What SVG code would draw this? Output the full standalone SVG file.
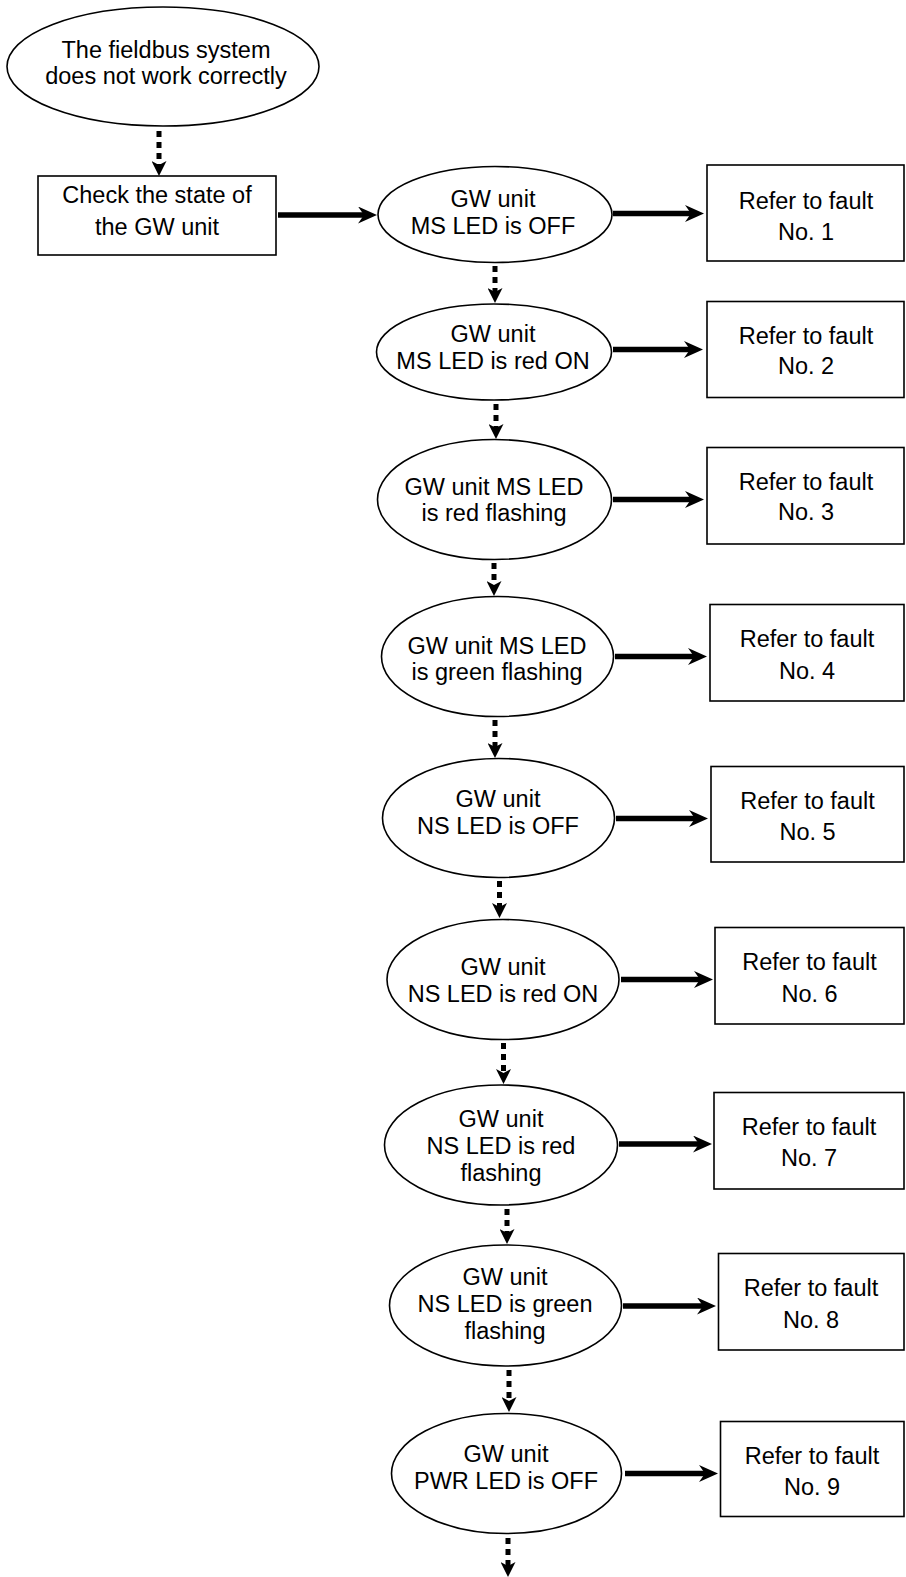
<svg xmlns="http://www.w3.org/2000/svg" width="906" height="1577" viewBox="0 0 906 1577">
<defs>
<style>
.n{fill:#fff;stroke:#000;stroke-width:1.6}
.t{font-family:"Liberation Sans",Arial,Helvetica,sans-serif;font-size:23.5px;fill:#000;text-anchor:middle}
.solid{fill:none;stroke:#000;stroke-width:5.5;marker-end:url(#ah)}
.dot{fill:none;stroke:#000;stroke-width:5;stroke-dasharray:6 5;marker-end:url(#ad)}
</style>
<marker id="ah" markerUnits="userSpaceOnUse" viewBox="0 0 19 17" refX="7" refY="8.5" markerWidth="19" markerHeight="17" orient="auto">
<path d="M0,0 L19,8.5 L0,17 L6,8.5 Z" fill="#000"/>
</marker>
<marker id="ad" markerUnits="userSpaceOnUse" viewBox="0 0 15 15" refX="4" refY="7.5" markerWidth="15" markerHeight="15" orient="auto">
<path d="M0,0 L15,7.5 L0,15 L4,7.5 Z" fill="#000"/>
</marker>
</defs>
<rect width="906" height="1577" fill="#fff"/>

<g id="connectors">
<path class="dot" d="M159,131 V165"/>
<path class="solid" d="M278,215 H365"/>
<path class="solid" d="M613,213.5 H692"/>
<path class="dot" d="M495,266 V292"/>
<path class="solid" d="M613,349.5 H691"/>
<path class="dot" d="M496,404 V428"/>
<path class="solid" d="M613,499.5 H692"/>
<path class="dot" d="M494,563 V585"/>
<path class="solid" d="M615,656.5 H695"/>
<path class="dot" d="M495,720 V747"/>
<path class="solid" d="M616,818.5 H696"/>
<path class="dot" d="M499.5,881 V907"/>
<path class="solid" d="M621,979.5 H701"/>
<path class="dot" d="M503.5,1043 V1073"/>
<path class="solid" d="M619,1144 H700"/>
<path class="dot" d="M507,1209 V1233"/>
<path class="solid" d="M623,1306 H704"/>
<path class="dot" d="M509,1370 V1401"/>
<path class="solid" d="M625,1473.5 H706"/>
<path class="dot" d="M508,1538 V1566"/>
</g>

<g id="start">
<ellipse class="n" cx="163" cy="66.5" rx="156" ry="59.5"/>
<text class="t" x="166" y="58">The fieldbus system</text>
<text class="t" x="166" y="84">does not work correctly</text>
</g>

<g id="check">
<rect class="n" x="38" y="176" width="238" height="79"/>
<text class="t" x="157" y="203">Check the state of</text>
<text class="t" x="157" y="235">the GW unit</text>
</g>

<g id="d1">
<ellipse class="n" cx="495" cy="214.5" rx="117" ry="48"/>
<text class="t" x="493" y="207">GW unit</text>
<text class="t" x="493" y="233.5">MS LED is OFF</text>
</g>
<g id="f1">
<rect class="n" x="707" y="165" width="197" height="96"/>
<text class="t" x="806" y="208.5">Refer to fault</text>
<text class="t" x="806" y="239.5">No. 1</text>
</g>

<g id="d2">
<ellipse class="n" cx="494" cy="352" rx="117.5" ry="48"/>
<text class="t" x="493" y="342">GW unit</text>
<text class="t" x="493" y="368.5">MS LED is red ON</text>
</g>
<g id="f2">
<rect class="n" x="707" y="301.5" width="197" height="96"/>
<text class="t" x="806" y="343.5">Refer to fault</text>
<text class="t" x="806" y="374">No. 2</text>
</g>

<g id="d3">
<ellipse class="n" cx="494.5" cy="499.5" rx="117" ry="60"/>
<text class="t" x="494" y="495">GW unit MS LED</text>
<text class="t" x="494" y="521">is red flashing</text>
</g>
<g id="f3">
<rect class="n" x="707" y="447.5" width="197" height="96.5"/>
<text class="t" x="806" y="489.5">Refer to fault</text>
<text class="t" x="806" y="520">No. 3</text>
</g>

<g id="d4">
<ellipse class="n" cx="497.5" cy="656.5" rx="116" ry="60"/>
<text class="t" x="497" y="653.5">GW unit MS LED</text>
<text class="t" x="497" y="680">is green flashing</text>
</g>
<g id="f4">
<rect class="n" x="710" y="604.5" width="194" height="96.5"/>
<text class="t" x="807" y="647">Refer to fault</text>
<text class="t" x="807" y="678.5">No. 4</text>
</g>

<g id="d5">
<ellipse class="n" cx="498.5" cy="818" rx="116" ry="59.5"/>
<text class="t" x="498" y="807">GW unit</text>
<text class="t" x="498" y="833.5">NS LED is OFF</text>
</g>
<g id="f5">
<rect class="n" x="711" y="766.5" width="193" height="95.5"/>
<text class="t" x="807.5" y="809">Refer to fault</text>
<text class="t" x="807.5" y="840">No. 5</text>
</g>

<g id="d6">
<ellipse class="n" cx="503" cy="979.5" rx="116" ry="60"/>
<text class="t" x="503" y="975">GW unit</text>
<text class="t" x="503" y="1002">NS LED is red ON</text>
</g>
<g id="f6">
<rect class="n" x="715" y="927.5" width="189" height="96.5"/>
<text class="t" x="809.5" y="970">Refer to fault</text>
<text class="t" x="809.5" y="1002">No. 6</text>
</g>

<g id="d7">
<ellipse class="n" cx="501" cy="1145" rx="116.5" ry="60"/>
<text class="t" x="501" y="1127">GW unit</text>
<text class="t" x="501" y="1154">NS LED is red</text>
<text class="t" x="501" y="1181">flashing</text>
</g>
<g id="f7">
<rect class="n" x="714" y="1092.5" width="190" height="96.5"/>
<text class="t" x="809" y="1135">Refer to fault</text>
<text class="t" x="809" y="1166">No. 7</text>
</g>

<g id="d8">
<ellipse class="n" cx="505.5" cy="1305.5" rx="116" ry="60.5"/>
<text class="t" x="505" y="1285">GW unit</text>
<text class="t" x="505" y="1312">NS LED is green</text>
<text class="t" x="505" y="1338.5">flashing</text>
</g>
<g id="f8">
<rect class="n" x="718.5" y="1253.5" width="185.5" height="96.5"/>
<text class="t" x="811" y="1296">Refer to fault</text>
<text class="t" x="811" y="1327.5">No. 8</text>
</g>

<g id="d9">
<ellipse class="n" cx="506.5" cy="1473.5" rx="115" ry="60"/>
<text class="t" x="506" y="1462">GW unit</text>
<text class="t" x="506" y="1488.5">PWR LED is OFF</text>
</g>
<g id="f9">
<rect class="n" x="720.5" y="1421.5" width="183.5" height="95"/>
<text class="t" x="812" y="1463.5">Refer to fault</text>
<text class="t" x="812" y="1495">No. 9</text>
</g>
</svg>
